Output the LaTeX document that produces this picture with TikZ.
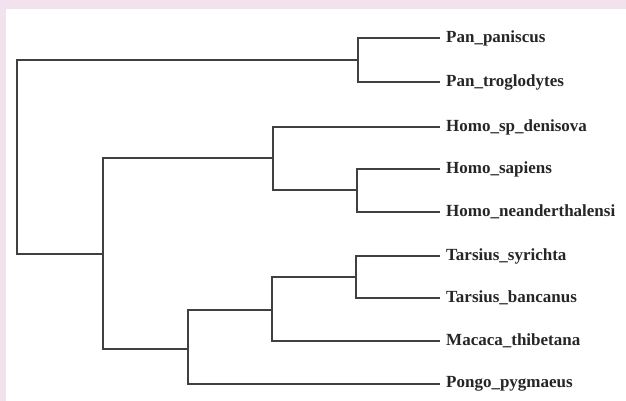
\documentclass[tikz,border=0pt]{standalone}
\usepackage{fontspec}
\setmainfont{Liberation Serif}
\usepackage{tikz}
\usetikzlibrary{calc}

\definecolor{bordo}{RGB}{242,226,238}

\tikzset{
  branch/.style={draw=black!75, line width=1.1pt},
  taxon/.style={anchor=west, inner sep=0pt, xshift=6pt,
    font=\bfseries\fontsize{17}{19}\selectfont, text=black!85}
}

\begin{document}
\begin{tikzpicture}[x=1pt, y=-1pt]
    % sfondo
    \fill[bordo] (0,0) rectangle (626,401);
    \fill[white] (6,9) rectangle (626,401);
    \useasboundingbox (0,0) rectangle (626,401);

    % foglie
    \coordinate (pp) at (440,38);
    \coordinate (pt) at (440,82);
    \coordinate (hd) at (440,127);
    \coordinate (hs) at (440,169);
    \coordinate (hn) at (440,212);
    \coordinate (ts) at (440,256);
    \coordinate (tb) at (440,298);
    \coordinate (mt) at (440,341);
    \coordinate (pg) at (440,384);

    % nodi interni
    \coordinate (pan)   at (358,60);
    \coordinate (homo)  at (357,190);
    \coordinate (hom)   at (273,158);
    \coordinate (tars)  at (356,277);
    \coordinate (tm)    at (272,310);
    \coordinate (tmp)   at (188,349);
    \coordinate (ingr)  at (103,254);
    \coordinate (root)  at (17,157);

    % rami
    \draw[branch] (root) |- (pan);
    \draw[branch] (root) |- (ingr);
    \draw[branch] (pan) |- (pp);
    \draw[branch] (pan) |- (pt);
    \draw[branch] (ingr) |- (hom);
    \draw[branch] (ingr) |- (tmp);
    \draw[branch] (hom) |- (hd);
    \draw[branch] (hom) |- (homo);
    \draw[branch] (homo) |- (hs);
    \draw[branch] (homo) |- (hn);
    \draw[branch] (tmp) |- (tm);
    \draw[branch] (tmp) |- (pg);
    \draw[branch] (tm) |- (tars);
    \draw[branch] (tm) |- (mt);
    \draw[branch] (tars) |- (ts);
    \draw[branch] (tars) |- (tb);

    % etichette
    \node[taxon] (ppL) at (pp) {Pan\_paniscus};
    \node[taxon] (ptL) at (pt) {Pan\_troglodytes};
    \node[taxon] (hdL) at (hd) {Homo\_sp\_denisova};
    \node[taxon] (hsL) at (hs) {Homo\_sapiens};
    \node[taxon] (hnL) at (hn) {Homo\_neanderthalensi};
    \node[taxon] (tsL) at (ts) {Tarsius\_syrichta};
    \node[taxon] (tbL) at (tb) {Tarsius\_bancanus};
    \node[taxon] (mtL) at (mt) {Macaca\_thibetana};
    \node[taxon] (pgL) at (pg) {Pongo\_pygmaeus};
\end{tikzpicture}
\end{document}
